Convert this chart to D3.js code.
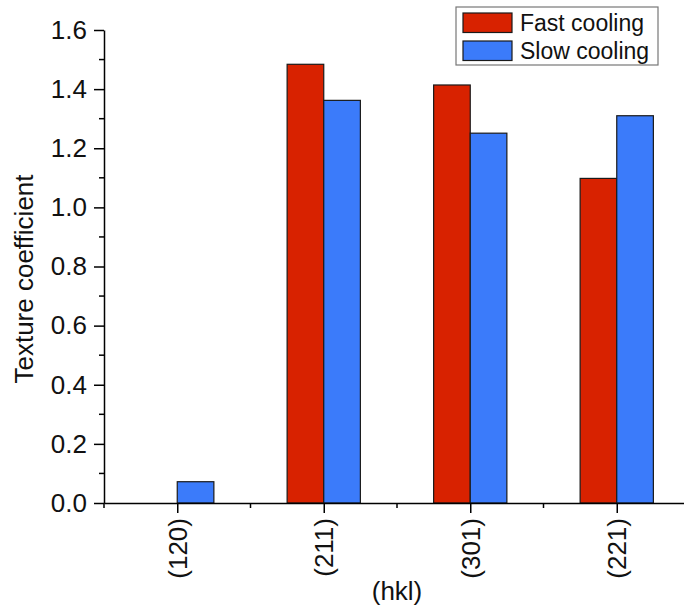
<!DOCTYPE html>
<html>
<head>
<meta charset="utf-8">
<script src="https://cdn.jsdelivr.net/npm/d3@7"></script>
<style>
  body { margin: 0; background: #fff; }
  svg { display: block; font-family: "Liberation Sans", Arial, sans-serif; }
</style>
</head>
<body>
<svg id="chart" width="684" height="609"></svg>
<script>
// data
const categories = ["(120)", "(211)", "(301)", "(221)"];
const fastCooling = [null, 1.484, 1.414, 1.098];
const slowCooling = [0.072, 1.362, 1.251, 1.310];
const yTicks = [0, 0.2, 0.4, 0.6, 0.8, 1.0, 1.2, 1.4, 1.6];
const yMinorTicks = [0.1, 0.3, 0.5, 0.7, 0.9, 1.1, 1.3, 1.5];
const seriesNames = ["Fast cooling", "Slow cooling"];

const red = "#d82200";
const blue = "#3b7bfa";

const svg = d3.select("#chart");

// x runs from 0.5 to 4.5, the right end is cut off by the page edge
const x = d3.scaleLinear().domain([0.5, 4.5]).range([104, 690]);
const y = d3.scaleLinear().domain([0, 1.6]).range([503, 30]);
const barW = 0.25;

// bars
const rows = categories.map((c, i) => ({ c, pos: i + 1, fast: fastCooling[i], slow: slowCooling[i] }));

svg.append("g").selectAll("rect")
  .data(rows.filter(d => d.fast != null))
  .enter().append("rect")
  .attr("x", d => x(d.pos - barW))
  .attr("width", d => x(d.pos) - x(d.pos - barW))
  .attr("y", d => y(d.fast))
  .attr("height", d => y(0) - y(d.fast))
  .attr("fill", red)
  .attr("stroke", "#1a1a1a")
  .attr("stroke-width", 1.2);

svg.append("g").selectAll("rect")
  .data(rows.filter(d => d.slow != null))
  .enter().append("rect")
  .attr("x", d => x(d.pos))
  .attr("width", d => x(d.pos + barW) - x(d.pos))
  .attr("y", d => y(d.slow))
  .attr("height", d => y(0) - y(d.slow))
  .attr("fill", blue)
  .attr("stroke", "#1a1a1a")
  .attr("stroke-width", 1.2);

// y axis
const yAxis = svg.append("g")
  .attr("transform", `translate(${x(0.5)},0)`)
  .call(d3.axisLeft(y).tickValues(yTicks).tickFormat(d3.format(".1f")).tickSize(10).tickPadding(7).tickSizeOuter(0));
yAxis.append("g").selectAll("line")
  .data(yMinorTicks)
  .enter().append("line")
  .attr("x1", -5).attr("x2", 0)
  .attr("y1", d => y(d)).attr("y2", d => y(d))
  .attr("stroke", "#000");

// x axis
const xAxis = svg.append("g")
  .attr("transform", `translate(0,${y(0)})`)
  .call(d3.axisBottom(x).tickValues(categories.map((c, i) => i + 1))
    .tickFormat((d, i) => categories[i]).tickSize(10).tickSizeOuter(0));
xAxis.selectAll(".tick text")
  .attr("transform", "rotate(-90)")
  .attr("text-anchor", "end")
  .attr("x", -15)
  .attr("y", 0)
  .attr("dy", "0.35em");
xAxis.append("g").selectAll("line")
  .data(d3.range(0.5, 4.6, 1))
  .enter().append("line")
  .attr("x1", d => x(d)).attr("x2", d => x(d))
  .attr("y1", 0).attr("y2", 5)
  .attr("stroke", "#000");

svg.selectAll(".domain, .tick line").attr("stroke", "#000").attr("stroke-width", 1.5);
svg.selectAll(".tick text").attr("font-size", 26).attr("fill", "#111")
  .attr("font-family", "Liberation Sans, Arial, sans-serif");
xAxis.selectAll("g > line").attr("stroke-width", 1.5);
yAxis.selectAll("g > line").attr("stroke-width", 1.5);

// axis titles
svg.append("text")
  .attr("transform", "translate(33,279) rotate(-90)")
  .attr("text-anchor", "middle")
  .attr("font-size", 26)
  .attr("fill", "#111")
  .text("Texture coefficient");

svg.append("text")
  .attr("x", (x(0.5) + x(4.5)) / 2)
  .attr("y", 600)
  .attr("text-anchor", "middle")
  .attr("font-size", 26)
  .attr("fill", "#111")
  .text("(hkl)");

// legend
const legend = svg.append("g");
legend.append("rect")
  .attr("x", 456).attr("y", 7).attr("width", 202).attr("height", 58)
  .attr("fill", "#fff").attr("stroke", "#777").attr("stroke-width", 1.2);
const items = legend.selectAll("g.item")
  .data(seriesNames)
  .enter().append("g")
  .attr("class", "item")
  .attr("transform", (d, i) => `translate(0,${i * 28})`);
items.append("rect")
  .attr("x", 463).attr("y", 13).attr("width", 49).attr("height", 19.5)
  .attr("fill", (d, i) => i === 0 ? red : blue)
  .attr("stroke", "#1a1a1a").attr("stroke-width", 1.2);
items.append("text")
  .attr("x", 520).attr("y", 30.5)
  .attr("font-size", 23)
  .attr("fill", "#111")
  .text(d => d);
</script>
</body>
</html>
